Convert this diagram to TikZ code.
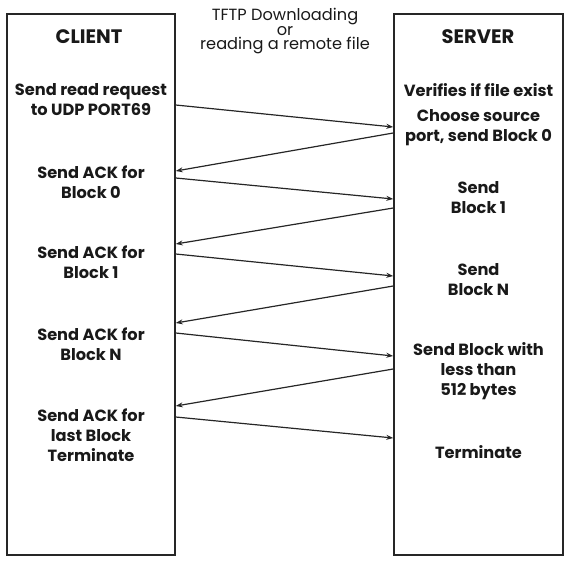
\documentclass[tikz,border=0pt]{standalone}
\usepackage{fontspec}
\setmainfont{Poppins}
\usetikzlibrary{arrows.meta}
\begin{document}
\begin{tikzpicture}[x=1pt,y=-1pt,
  box/.style={draw=black!85, line width=1.5pt, inner sep=0pt},
  lbl/.style={font=\bfseries\fontsize{16.2}{20}\selectfont, align=center, inner sep=0pt, text=black!90},
  head/.style={font=\bfseries\fontsize{19.5}{20}\selectfont, inner sep=0pt, text=black!90},
  ttl/.style={font=\fontsize{16.2}{14.5}\selectfont, align=center, inner sep=0pt, text=black!90},
  arr/.style={draw=black!85, line width=1.2pt, -{Stealth[length=7pt,width=5pt]}}]
\useasboundingbox (0,0) rectangle (570,565);
% boxes
\node[box, minimum width=168pt, minimum height=541pt] (client) at (91,284.5) {};
\node[box, minimum width=169pt, minimum height=541pt] (server) at (478.5,284.5) {};
% headings
\node[head] (clienth) at (89,37) {CLIENT};
\node[head] (serverh) at (478,37) {SERVER};
\node[ttl] (title) at (285,31.5) {TFTP Downloading\\or\\reading a remote file};
% client labels
\node[lbl] (c1) at (91,99.5) {Send read request\\to UDP PORT69};
\node[lbl] (c2) at (91,182) {Send ACK for\\Block 0};
\node[lbl] (c3) at (91,262.5) {Send ACK for\\Block 1};
\node[lbl] (c4) at (91,344) {Send ACK for\\Block N};
\node[lbl] (c5) at (91,435.5) {Send ACK for\\last Block\\Terminate};
% server labels
\node[lbl] (s0) at (478.5,90) {Verifies if file exist};
\node[lbl] (s1) at (478.5,128) {Choose source\\port, send Block 0};
\node[lbl] (s2) at (478.5,198) {Send\\Block 1};
\node[lbl] (s3) at (478.5,280) {Send\\Block N};
\node[lbl] (s4) at (478.5,371) {Send Block with\\less than\\512 bytes};
\node[lbl] (s5) at (478.5,452) {Terminate};
% arrow end points
\coordinate (a1) at (client.east |- 0,105);
\coordinate (b1) at (server.west |- 0,127);
\coordinate (b2) at (server.west |- 0,133);
\coordinate (a2) at (client.east |- 0,171);
\coordinate (a3) at (client.east |- 0,178);
\coordinate (b3) at (server.west |- 0,199);
\coordinate (b4) at (server.west |- 0,208);
\coordinate (a4) at (client.east |- 0,244);
\coordinate (a5) at (client.east |- 0,254);
\coordinate (b5) at (server.west |- 0,276);
\coordinate (b6) at (server.west |- 0,286);
\coordinate (a6) at (client.east |- 0,323);
\coordinate (a7) at (client.east |- 0,333);
\coordinate (b7) at (server.west |- 0,356);
\coordinate (b8) at (server.west |- 0,369);
\coordinate (a8) at (client.east |- 0,406);
\coordinate (a9) at (client.east |- 0,417);
\coordinate (b9) at (server.west |- 0,438);
% arrows
\draw[arr] (a1) -- (b1);
\draw[arr] (b2) -- (a2);
\draw[arr] (a3) -- (b3);
\draw[arr] (b4) -- (a4);
\draw[arr] (a5) -- (b5);
\draw[arr] (b6) -- (a6);
\draw[arr] (a7) -- (b7);
\draw[arr] (b8) -- (a8);
\draw[arr] (a9) -- (b9);
\end{tikzpicture}
\end{document}
